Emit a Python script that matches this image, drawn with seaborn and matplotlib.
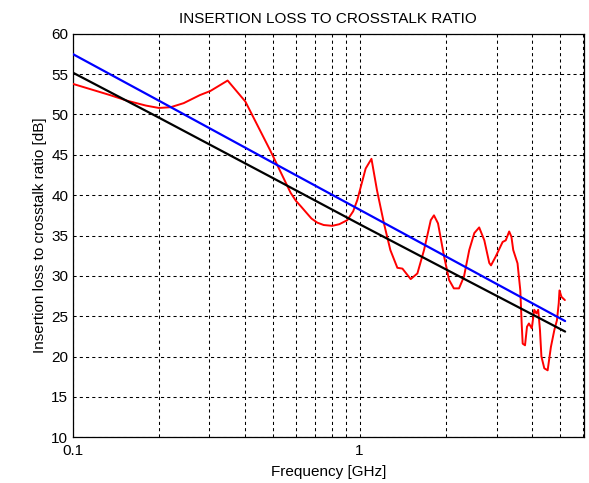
import numpy as np
import pandas as pd
import matplotlib
matplotlib.use("Agg")
import matplotlib.pyplot as plt
from matplotlib.ticker import LogLocator, FixedLocator, NullFormatter, FixedFormatter
import seaborn as sns

# Measured insertion-loss-to-crosstalk ratio (red)
meas_freq = [0.1, 0.135, 0.155, 0.18, 0.2, 0.22, 0.244, 0.278, 0.302, 0.347, 0.4,
             0.489, 0.575, 0.6, 0.625, 0.65, 0.68, 0.712, 0.75, 0.803, 0.85,
             0.906, 0.95, 0.982, 1.05, 1.10, 1.15, 1.216, 1.28,
             1.354, 1.41, 1.507, 1.59, 1.677, 1.77, 1.816, 1.876, 1.97, 2.05,
             2.13, 2.22, 2.31, 2.41, 2.51, 2.61, 2.72, 2.83, 2.87, 2.98, 3.15,
             3.23, 3.32, 3.38, 3.43, 3.55, 3.63, 3.67, 3.70, 3.77, 3.83, 3.89,
             3.98, 4.06, 4.13, 4.19, 4.25, 4.30, 4.40, 4.52, 4.64, 4.77, 4.87,
             4.94, 4.97, 5.05, 5.19]
meas_db = [53.8, 52.4, 51.7, 51.1, 50.8, 50.9, 51.4, 52.4, 52.9, 54.2, 51.6,
           45.5, 40.3, 39.3, 38.6, 37.9, 37.1, 36.6, 36.3, 36.2, 36.4,
           36.9, 38.0, 39.4, 43.3, 44.5, 40.6, 36.5, 33.2,
           31.0, 30.9, 29.6, 30.3, 33.2, 36.9, 37.5, 36.5, 32.4, 29.5,
           28.45, 28.45, 29.9, 33.2, 35.3, 36.0, 34.4, 31.6, 31.3, 32.4, 34.2,
           34.4, 35.5, 34.85, 33.2, 31.55, 28.2, 24.1, 21.6, 21.4, 23.7, 24.1,
           23.5, 25.8, 25.35, 25.8, 23.3, 20.0, 18.55, 18.3, 21.2, 23.3, 24.5,
           26.6, 28.2, 27.4, 27.0]

# Limit lines (blue and black)
limit_freq = [0.1, 0.2, 0.5, 1.0, 2.0, 5.2]
upper_db = [57.5, 51.7, 44.0, 38.2, 32.4, 24.4]
lower_db = [55.2, 49.6, 42.1, 36.4, 30.8, 23.1]

y_ticks = [10, 15, 20, 25, 30, 35, 40, 45, 50, 55, 60]

sns.set_style("white")
plt.rcParams["font.family"] = ["Liberation Sans", "DejaVu Sans"]
plt.rcParams["text.color"] = "black"
plt.rcParams["axes.labelcolor"] = "black"

fig = plt.figure(figsize=(5.89, 4.83), dpi=100)
ax = fig.add_axes([0.1231, 0.0946, 0.8684, 0.8356])

meas = pd.DataFrame({"f": meas_freq, "db": meas_db})
lim = pd.DataFrame({"f": limit_freq, "upper": upper_db, "lower": lower_db})

sns.lineplot(data=meas, x="f", y="db", ax=ax, color="#ff0000", lw=1.4,
             sort=False, estimator=None, zorder=3)
sns.lineplot(data=lim, x="f", y="upper", ax=ax, color="#0000ff", lw=1.6,
             sort=False, estimator=None, zorder=4)
sns.lineplot(data=lim, x="f", y="lower", ax=ax, color="#000000", lw=1.6,
             sort=False, estimator=None, zorder=4)

ax.set_xscale("log")
ax.set_xlim(0.1, 6.05)
ax.set_ylim(10, 60)

ax.xaxis.set_major_locator(FixedLocator([0.1, 1]))
ax.xaxis.set_major_formatter(FixedFormatter(["0.1", "1"]))
ax.xaxis.set_minor_locator(LogLocator(base=10, subs=np.arange(2, 10)))
ax.xaxis.set_minor_formatter(NullFormatter())
ax.yaxis.set_major_locator(FixedLocator(y_ticks))
ax.set_yticklabels([str(v) for v in y_ticks])

grid_style = dict(color="black", linestyle=(0, (3, 3)), linewidth=0.75)
ax.grid(True, which="major", axis="both", **grid_style)
ax.grid(True, which="minor", axis="x", **grid_style)

ax.tick_params(axis="both", which="both", direction="in", length=4,
               width=0.8, labelsize=11, colors="black", pad=3)
ax.tick_params(axis="x", which="major", pad=5)
for side in ax.spines.values():
    side.set_color("black")
    side.set_linewidth(0.9)

ax.set_title("INSERTION LOSS TO CROSSTALK RATIO", fontsize=11, pad=8, color="black")
ax.set_xlabel("Frequency [GHz]", fontsize=11, labelpad=5, color="black")
ax.set_ylabel("Insertion loss to crosstalk ratio [dB]", fontsize=11, labelpad=3,
              color="black")

fig.savefig("out.png", dpi=100)
